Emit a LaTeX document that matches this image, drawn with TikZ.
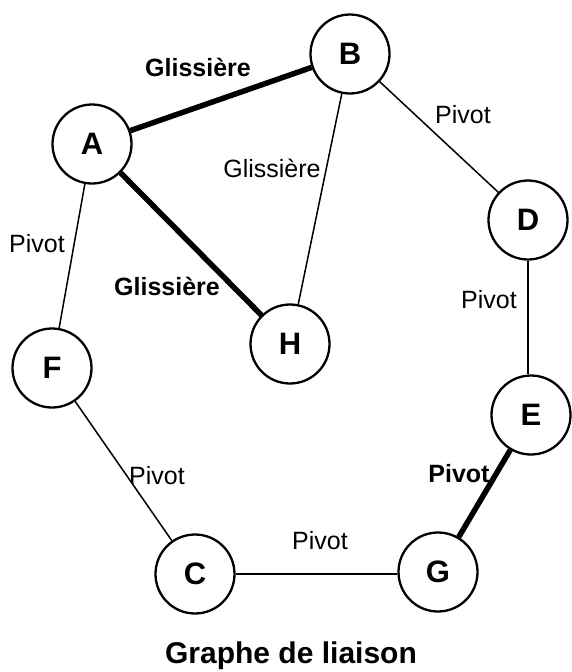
\documentclass[tikz,border=0pt]{standalone}
\usepackage{fontspec}
\setmainfont{Liberation Sans}
\begin{document}
\begin{tikzpicture}[x=1pt,y=-1pt,
  part/.style={circle,draw,line width=2.3pt,fill=white,minimum size=79pt,inner sep=0pt,font=\fontsize{31}{31}\selectfont\bfseries},
  thin link/.style={line width=1.5pt},
  thick link/.style={line width=5.5pt},
  lab/.style={font=\fontsize{25}{25}\selectfont,inner sep=0pt},
  blab/.style={font=\fontsize{25}{25}\selectfont\bfseries,inner sep=0pt}]
\useasboundingbox (0,0) rectangle (572,672);
\node[part] (A) at (92,144) {A};
\node[part] (B) at (350,54) {B};
\node[part] (D) at (528,220) {D};
\node[part] (H) at (290,344) {H};
\node[part] (F) at (52,368) {F};
\node[part] (E) at (531,415) {E};
\node[part] (C) at (195,574) {C};
\node[part] (G) at (438,572) {G};
\draw[thick link] (A) -- (B);
\draw[thick link] (A) -- (H);
\draw[thin link] (A) -- (F);
\draw[thin link] (B) -- (H);
\draw[thin link] (B) -- (D);
\draw[thin link] (D.south) -- (D.south |- E.north);
\draw[thin link] (F) -- (C);
\draw[thin link] (C.east) -- (C.east -| G.west);
\draw[thick link] (E) -- (G);
\node[blab] (l1) at (198,67) {Glissière};
\node[lab] (l2) at (272,168) {Glissière};
\node[lab] (l3) at (37,244) {Pivot};
\node[blab] (l4) at (167,286) {Glissière};
\node[lab] (l5) at (463,115) {Pivot};
\node[lab] (l6) at (489,300) {Pivot};
\node[lab] (l7) at (157,476) {Pivot};
\node[blab] (l8) at (459,474) {Pivot};
\node[lab] (l9) at (320,541) {Pivot};
\node[font=\fontsize{30}{30}\selectfont\bfseries,inner sep=0pt] (title) at (291,656) {Graphe de liaison};
\end{tikzpicture}
\end{document}
